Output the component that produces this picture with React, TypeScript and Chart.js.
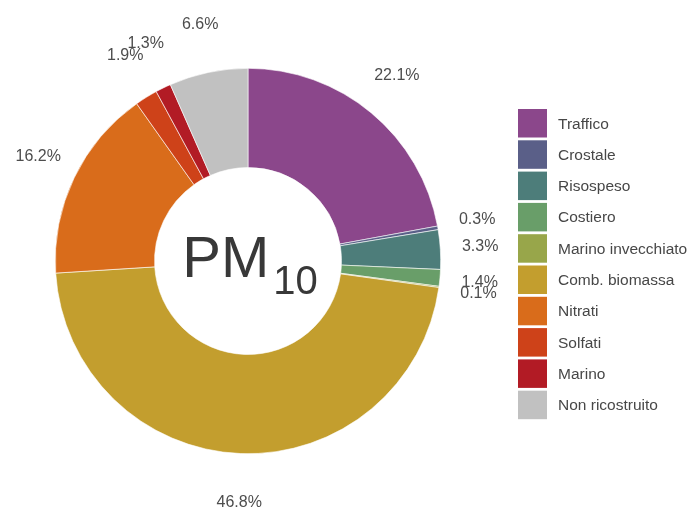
import React, { useEffect, useRef } from "react";
import { Chart, registerables } from "chart.js";

Chart.register(...registerables);

const categories = [
  "Traffico",
  "Crostale",
  "Risospeso",
  "Costiero",
  "Marino invecchiato",
  "Comb. biomassa",
  "Nitrati",
  "Solfati",
  "Marino",
  "Non ricostruito",
];
const shares = [22.1, 0.3, 3.3, 1.4, 0.1, 46.8, 16.2, 1.9, 1.3, 6.6];
const colors = [
  "#8b478b",
  "#5a5f88",
  "#4d7d7a",
  "#699e69",
  "#98a64a",
  "#c39e2e",
  "#d96c1b",
  "#ce4219",
  "#b21b25",
  "#c1c1c1",
];
const centerMain = "PM";
const centerSub = "10";

const FONT = "'Liberation Sans', Arial, sans-serif";

const labelPlugin = {
  id: "sliceLabels",
  afterDatasetsDraw(chart: any) {
    const ctx = chart.ctx;
    const meta = chart.getDatasetMeta(0);
    const data = chart.data.datasets[0].data as number[];
    ctx.save();
    ctx.font = `16px ${FONT}`;
    ctx.fillStyle = "#4d4d4d";
    ctx.textAlign = "center";
    ctx.textBaseline = "middle";
    meta.data.forEach((arc: any, i: number) => {
      const p = arc.getProps(["x", "y", "startAngle", "endAngle", "outerRadius"], true);
      const mid = (p.startAngle + p.endAngle) / 2;
      const rx = p.outerRadius * 1.207;
      const ry = p.outerRadius * 1.255;
      const x = p.x + Math.cos(mid) * rx;
      const y = p.y + Math.sin(mid) * ry;
      ctx.fillText(data[i].toFixed(1) + "%", x, y);
    });
    // center text
    const a0 = meta.data[0].getProps(["x", "y"], true);
    ctx.fillStyle = "#383838";
    ctx.textAlign = "left";
    ctx.textBaseline = "alphabetic";
    ctx.font = `58px ${FONT}`;
    const wMain = ctx.measureText(centerMain).width;
    ctx.font = `40px ${FONT}`;
    const wSub = ctx.measureText(centerSub).width;
    const total = wMain + wSub + 4;
    const x0 = a0.x - total / 2 + 2;
    ctx.font = `58px ${FONT}`;
    ctx.fillText(centerMain, x0, a0.y + 16);
    ctx.font = `40px ${FONT}`;
    ctx.fillText(centerSub, x0 + wMain + 4, a0.y + 33);
    ctx.restore();
  },
};

const legendPlugin = {
  id: "sideLegend",
  afterDraw(chart: any) {
    const ctx = chart.ctx;
    const labels = chart.data.labels as string[];
    const bg = chart.data.datasets[0].backgroundColor as string[];
    const left = 518;
    const top = 109;
    const pitch = 31.3;
    const boxW = 29;
    const boxH = 28.5;
    ctx.save();
    ctx.font = `15.5px ${FONT}`;
    ctx.textAlign = "left";
    ctx.textBaseline = "middle";
    labels.forEach((lab, i) => {
      const y = top + i * pitch;
      ctx.fillStyle = bg[i];
      ctx.fillRect(left, y, boxW, boxH);
      ctx.fillStyle = "#474747";
      ctx.fillText(lab, left + 40, y + boxH / 2 + 1);
    });
    ctx.restore();
  },
};

export default function App() {
  const ref = useRef<HTMLCanvasElement | null>(null);
  useEffect(() => {
    if (!ref.current) return;
    const chart = new Chart(ref.current, {
      type: "doughnut",
      data: {
        labels: categories,
        datasets: [
          {
            data: shares,
            backgroundColor: colors,
            borderColor: "#ffffff",
            borderWidth: 0.6,
            hoverOffset: 0,
          },
        ],
      },
      options: {
        animation: false,
        responsive: true,
        maintainAspectRatio: false,
        cutout: "48.5%",
        layout: { padding: { left: 55, right: 247, top: 68, bottom: 56 } },
        plugins: {
          legend: { display: false },
          tooltip: { enabled: false },
        },
      },
      plugins: [labelPlugin, legendPlugin],
    });
    return () => chart.destroy();
  }, []);
  return (
    <div
      style={{
        position: "fixed",
        left: 0,
        top: 0,
        width: 688,
        height: 510,
        background: "#ffffff",
      }}
    >
      <canvas ref={ref} />
    </div>
  );
}
